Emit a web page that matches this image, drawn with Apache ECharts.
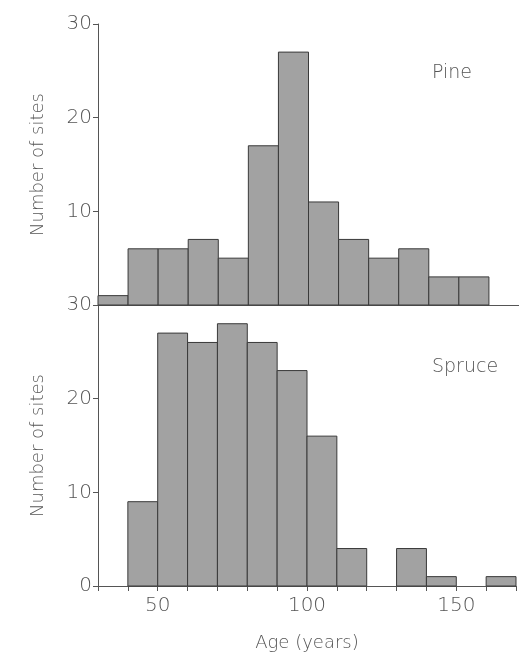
<!DOCTYPE html>
<html>
<head>
<meta charset="utf-8">
<script src="https://cdn.jsdelivr.net/npm/echarts@6/dist/echarts.min.js"></script>
<style>
    html, body { margin: 0; padding: 0; background: #fff; }
    #chart { width: 519px; height: 654px; }
</style>
</head>
<body>
<div id="chart"></div>
<script>
// bin edges (years), 10-year classes
let binStart = [30, 40, 50, 60, 70, 80, 90, 100, 110, 120, 130, 140, 150, 160]
let pineData = [1, 6, 6, 7, 5, 17, 27, 11, 7, 5, 6, 3, 3, 0]
let spruceData = [0, 9, 27, 26, 28, 26, 23, 16, 4, 0, 4, 1, 0, 1]
let binWidth = 10

let xLabels = [50, 100, 150]

let textColor = '#555'
let fontFam = "'DejaVu Sans', sans-serif"

let myChart = echarts.init(document.getElementById('chart'))

// histogram bars from bin start and count
let renderBar = function (params, api) {
    let x0 = api.value(0)
    let v = api.value(1)
    if (!v) return
    let p0 = api.coord([x0, 0])
    let p1 = api.coord([x0 + binWidth, v])
    return {
        type: 'rect',
        shape: { x: p0[0], y: p1[1], width: p1[0] - p0[0], height: p0[1] - p1[1] },
        style: { fill: '#a2a2a2', stroke: '#3a3a3a', lineWidth: 1 }
    }
}

let yAxisBase = {
    type: 'value',
    min: 0,
    max: 30,
    interval: 10,
    splitLine: { show: false },
    axisLine: { show: true, lineStyle: { color: '#555', width: 1 } },
    axisTick: { show: true, length: 5, lineStyle: { color: '#555' } },
    name: 'Number of sites',
    nameLocation: 'middle',
    nameGap: 51,
    nameTextStyle: { color: textColor, fontSize: 18, fontFamily: fontFam, fontWeight: 200 },
    axisLabel: { color: textColor, fontSize: 20, fontFamily: fontFam, fontWeight: 200, margin: 6 }
}

let option = {
    animation: false,
    grid: [
        { left: 98, top: 24, width: 430, height: 281 },
        { left: 98, top: 305, width: 430, height: 281 }
    ],
    xAxis: [
        {
            gridIndex: 0, type: 'value', min: 30, max: 170, interval: 10,
            splitLine: { show: false },
            axisLine: { show: true, onZero: false, lineStyle: { color: '#555' } },
            axisTick: { show: false },
            axisLabel: { show: false }
        },
        {
            gridIndex: 1, type: 'value', min: 30, max: 170, interval: 10,
            splitLine: { show: false },
            axisLine: { show: true, onZero: false, lineStyle: { color: '#555' } },
            axisTick: { show: true, length: 5, lineStyle: { color: '#555' } },
            axisLabel: {
                color: textColor, fontSize: 20, fontFamily: fontFam, fontWeight: 200, margin: 10,
                formatter: function (v) { return xLabels.indexOf(v) >= 0 ? String(v) : '' }
            },
            name: 'Age (years)',
            nameLocation: 'middle',
            nameGap: 48,
            nameTextStyle: { color: textColor, fontSize: 18, fontFamily: fontFam, fontWeight: 200 }
        }
    ],
    yAxis: [
        Object.assign({}, yAxisBase, {
            gridIndex: 0,
            axisLabel: Object.assign({}, yAxisBase.axisLabel, {
                formatter: function (v) { return v === 0 ? '' : String(v) }
            })
        }),
        Object.assign({}, yAxisBase, { gridIndex: 1 })
    ],
    graphic: [
        { type: 'text', left: 432, top: 64, style: { text: 'Pine', fill: textColor, font: '200 19px ' + fontFam } },
        { type: 'text', left: 432, top: 358, style: { text: 'Spruce', fill: textColor, font: '200 19px ' + fontFam } }
    ],
    series: [
        {
            name: 'Pine', type: 'custom', xAxisIndex: 0, yAxisIndex: 0,
            renderItem: renderBar,
            data: binStart.map((b, i) => [b, pineData[i]])
        },
        {
            name: 'Spruce', type: 'custom', xAxisIndex: 1, yAxisIndex: 1,
            renderItem: renderBar,
            data: binStart.map((b, i) => [b, spruceData[i]])
        }
    ]
}
myChart.setOption(option)
window.addEventListener('resize', function () {
    myChart.resize()
})
</script>
</body>
</html>
